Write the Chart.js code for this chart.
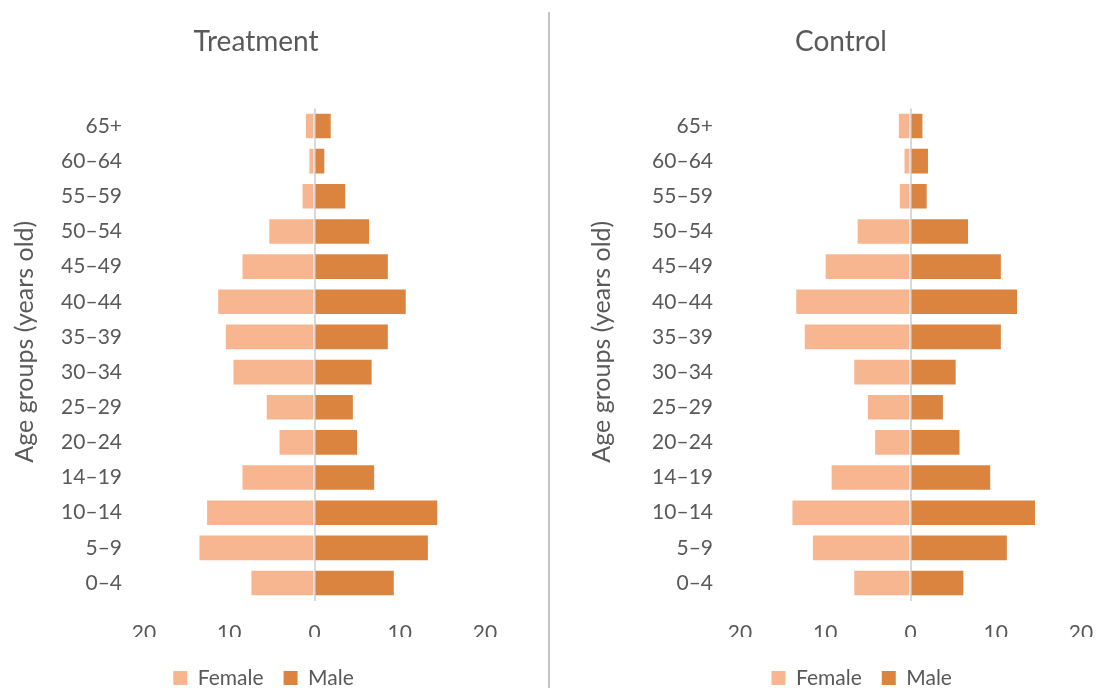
<!DOCTYPE html>
<html>
<head>
<meta charset="utf-8">
<title>Age pyramids: Treatment and Control</title>
<script src="https://cdn.jsdelivr.net/npm/chart.js@4/dist/chart.umd.min.js"></script>
<style>
  html, body { margin: 0; padding: 0; background: #fff; overflow: hidden; }
  #page { position: relative; width: 1097px; height: 688px; }
  .panel { position: absolute; top: 0; height: 688px; }
  #treatment-wrap { left: 0; width: 549px; }
  #control-wrap { left: 549px; width: 548px; }
  #divider { position: absolute; left: 548px; top: 12px; width: 2px; height: 676px; background: #c4c4c4; }
</style>
</head>
<body>
<div id="page">
  <div class="panel" id="treatment-wrap"><canvas id="treatment" width="549" height="688"></canvas></div>
  <div class="panel" id="control-wrap"><canvas id="control" width="548" height="688"></canvas></div>
  <div id="divider"></div>
</div>
<script>
// Age groups, youngest first (drawn bottom to top)
const ageGroups = ['0–4', '5–9', '10–14', '14–19', '20–24', '25–29', '30–34',
                   '35–39', '40–44', '45–49', '50–54', '55–59', '60–64', '65+'];

// Share of each group (%), Treatment arm
const treatmentFemale = [7.4, 13.5, 12.6, 8.45, 4.1, 5.6, 9.5, 10.4, 11.3, 8.45, 5.3, 1.4, 0.6, 1.0];
const treatmentMale   = [9.3, 13.3, 14.4, 7.0, 5.0, 4.5, 6.7, 8.6, 10.7, 8.6, 6.4, 3.6, 1.15, 1.9];

// Share of each group (%), Control arm
const controlFemale = [6.6, 11.45, 13.85, 9.25, 4.15, 5.0, 6.6, 12.4, 13.4, 9.95, 6.2, 1.25, 0.7, 1.37];
const controlMale   = [6.2, 11.3, 14.6, 9.35, 5.75, 3.8, 5.3, 10.6, 12.5, 10.6, 6.75, 1.9, 2.05, 1.4];

// Horizontal axis ticks (shown as magnitudes on both sides)
const axisMin = -20;
const axisMax = 20;
const axisStep = 10;

const seriesNames = ['Female', 'Male'];
// leading spaces lift the rotated title a little above the axis midpoint
const yAxisTitle = '    Age groups (years old)';

const FEMALE_COLOR = '#F8B690';
const MALE_COLOR = '#DB843F';
const TEXT_COLOR = '#595959';

Chart.defaults.font.family = 'Lato, "Open Sans", sans-serif';
Chart.defaults.color = TEXT_COLOR;

// Re-centres the title and legend boxes horizontally (and the legend row vertically)
const boxCentre = {
  id: 'boxCentre',
  afterLayout(chart, args, opts) {
    const t = chart.titleBlock;
    if (t && opts.titleX != null) {
      const dx = opts.titleX - (t.left + t.right) / 2;
      t.left += dx; t.right += dx;
    }
    const lg = chart.legend;
    if (lg) {
      if (opts.legendX != null) {
        const dx = opts.legendX - (lg.left + lg.right) / 2;
        lg.left += dx; lg.right += dx;
      }
      if (opts.legendY != null) {
        const lo = lg.options.labels;
        const fs = lo.font.size;
        const top = opts.legendY - lo.padding - fs / 2;
        const h = lg.bottom - lg.top;
        lg.top = top; lg.bottom = top + h;
      }
    }
  }
};

function buildPyramid(canvasId, titleText, female, male, L) {
  return new Chart(document.getElementById(canvasId), {
    type: 'bar',
    data: {
      labels: ageGroups,
      datasets: [
        { label: seriesNames[0], data: female.map(v => -v), backgroundColor: FEMALE_COLOR,
          borderWidth: 0, categoryPercentage: 0.70, barPercentage: 1.0 },
        { label: seriesNames[1], data: male, backgroundColor: MALE_COLOR,
          borderWidth: 0, categoryPercentage: 0.70, barPercentage: 1.0 }
      ]
    },
    options: {
      indexAxis: 'y',
      responsive: false,
      animation: false,
      events: [],
      layout: { padding: { left: 0, right: L.padRight, top: 0, bottom: 0 } },
      scales: {
        x: {
          stacked: true,
          min: axisMin,
          max: axisMax,
          z: 1,
          ticks: {
            stepSize: axisStep,
            padding: 0,
            font: { size: 21 },
            color: TEXT_COLOR,
            maxRotation: 0,
            callback: v => String(Math.abs(v))
          },
          grid: {
            drawTicks: true,
            tickLength: 19.8,
            tickColor: 'rgba(0,0,0,0)',
            lineWidth: 2,
            color: c => (c.tick && c.tick.value === 0) ? '#D9D9D9' : 'rgba(0,0,0,0)'
          },
          border: { display: false },
          afterFit: s => { s.height = 36.4; }
        },
        y: {
          type: 'category',
          stacked: true,
          reverse: true,
          grid: { display: false, drawTicks: false },
          border: { display: false },
          ticks: { padding: L.yTickPad, font: { size: 21 }, color: TEXT_COLOR, autoSkip: false },
          title: {
            display: true,
            text: yAxisTitle,
            font: { size: 25 },
            color: TEXT_COLOR,
            padding: { top: L.yTitlePad, bottom: 0 }
          },
          afterFit: s => { s.width = L.yAxisWidth; }
        }
      },
      plugins: {
        title: {
          display: true,
          text: titleText,
          font: { size: 28, weight: 'normal' },
          color: TEXT_COLOR,
          padding: { top: 25.2, bottom: 49.6 }
        },
        legend: {
          position: 'bottom',
          labels: {
            boxWidth: 14,
            boxHeight: 14,
            padding: 20,
            font: { size: 21 },
            color: TEXT_COLOR
          }
        },
        tooltip: { enabled: false },
        boxCentre: { titleX: L.titleX, legendX: L.legendX, legendY: 678 }
      }
    },
    plugins: [boxCentre]
  });
}

buildPyramid('treatment', 'Treatment', treatmentFemale, treatmentMale, {
  yAxisWidth: 144, yTickPad: 22, yTitlePad: 10, padRight: 64, titleX: 256, legendX: 263.5
});

buildPyramid('control', 'Control', controlFemale, controlMale, {
  yAxisWidth: 191, yTickPad: 27, yTitlePad: 37.5, padRight: 16, titleX: 292, legendX: 312.7
});
</script>
</body>
</html>
